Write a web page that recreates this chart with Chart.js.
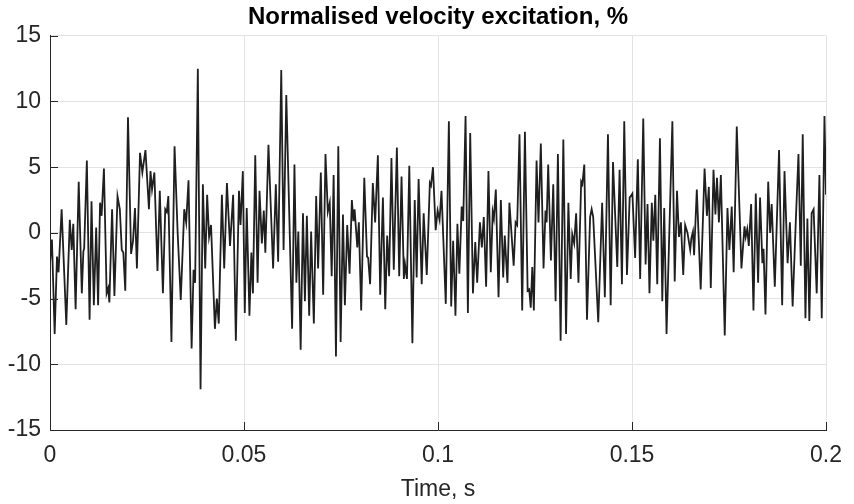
<!DOCTYPE html>
<html>
<head>
<meta charset="utf-8">
<script src="https://cdn.jsdelivr.net/npm/chart.js@4.4.1/dist/chart.umd.min.js"></script>
<style>
  html, body { margin: 0; padding: 0; background: #ffffff; }
  canvas { display: block; }
</style>
</head>
<body>
<canvas id="velocityChart" width="854" height="504"></canvas>
<script>
// sample times (ms) and normalised velocity (%)
const timeMs = [
  0.0, 0.5, 1.2, 1.8, 2.2, 3.0, 4.2, 5.1, 5.6, 6.0, 6.6, 7.4, 8.2, 8.6, 8.8, 9.5, 10.2, 10.7, 11.3, 11.9,
  12.4, 12.9, 13.3, 13.9, 14.6, 15.0, 15.3, 16.0, 16.6, 17.4, 18.0, 18.5, 18.9, 19.4, 20.1, 20.9, 21.4, 21.9, 22.4, 23.2,
  23.8, 24.6, 25.5, 25.9, 26.3, 26.9, 27.7, 28.3, 29.1, 29.7, 30.1, 30.5, 31.3, 32.1, 32.9, 33.7, 34.6, 35.1, 35.7, 36.5,
  37.0, 37.4, 38.1, 38.8, 39.4, 40.0, 40.5, 41.0, 41.5, 42.5, 43.0, 43.5, 44.3, 44.9, 45.6, 46.4, 47.2, 47.9, 48.7, 49.1,
  49.7, 50.2, 50.7, 51.4, 51.9, 52.3, 52.9, 53.5, 54.0, 54.6, 55.1, 55.5, 56.3, 57.5, 58.2, 58.8, 59.6, 60.2, 60.9, 62.4,
  63.0, 63.5, 64.0, 64.6, 65.2, 65.7, 66.2, 66.8, 67.3, 68.0, 68.6, 69.1, 69.8, 70.4, 71.0, 71.6, 72.1, 72.6, 73.1, 73.7,
  74.3, 74.9, 75.5, 76.0, 76.6, 77.2, 77.8, 78.2, 78.5, 79.2, 79.6, 80.2, 81.0, 81.7, 82.0, 82.5, 83.2, 83.8, 84.5, 85.1,
  85.8, 86.4, 86.9, 87.4, 88.0, 88.6, 89.4, 90.0, 90.6, 91.2, 91.5, 92.0, 92.6, 93.4, 94.0, 94.5, 95.0, 95.8, 96.3, 97.1,
  97.9, 98.2, 98.7, 99.4, 99.9, 100.4, 100.9, 102.0, 102.8, 103.4, 103.9, 104.5, 105.0, 105.5, 106.1, 106.5, 107.1, 107.7, 108.3, 109.0,
  109.6, 110.1, 110.8, 111.3, 111.8, 112.4, 113.0, 113.6, 114.1, 114.4, 114.9, 115.6, 116.2, 116.8, 117.2, 117.9, 118.4, 119.5, 120.0, 120.4,
  121.0, 121.7, 122.4, 123.1, 123.5, 123.9, 124.3, 124.7, 125.4, 125.9, 126.5, 127.2, 127.7, 128.0, 128.4, 129.1, 129.7, 130.3, 130.9, 131.6,
  132.3, 133.0, 133.6, 134.2, 134.6, 135.1, 135.6, 136.2, 136.9, 137.2, 137.7, 138.4, 139.2, 139.6, 140.0, 141.3, 142.3, 143.0, 143.8, 144.5,
  145.1, 146.2, 146.8, 147.4, 148.0, 148.7, 149.4, 149.7, 150.1, 150.8, 151.5, 152.1, 152.9, 153.5, 154.0, 154.5, 155.1, 155.5, 156.0, 156.5,
  157.2, 157.8, 158.3, 158.9, 160.4, 161.0, 161.6, 162.1, 162.6, 163.2, 163.7, 164.3, 165.0, 165.3, 165.7, 166.0, 166.7, 167.7, 168.7, 169.3,
  169.8, 170.3, 171.0, 171.5, 171.9, 172.4, 172.9, 173.9, 174.6, 175.1, 175.7, 176.2, 177.0, 178.2, 179.0, 179.3, 179.7, 180.1, 180.7, 181.3,
  181.9, 182.5, 183.0, 183.6, 183.9, 184.4, 185.1, 185.6, 186.0, 186.8, 187.9, 188.7, 189.3, 190.1, 190.7, 191.4, 192.2, 192.9, 193.5, 194.0,
  194.7, 195.2, 195.7, 196.3, 196.8, 197.6, 198.3, 198.9, 199.6, 200.0
];
const velocity = [
  -2.3, -0.5, -7.7, -1.8, -3.0, 1.8, -7.0, 1.0, -1.3, 0.7, -5.8, 3.9, -4.6, -1.4, -1.2, 5.5, -6.6, 2.4, -5.5, 0.4,
  -5.5, 2.3, 1.3, 4.9, -4.6, -4.2, -5.3, 1.8, -4.8, 2.8, 1.8, -1.3, -1.5, -4.4, 8.8, -1.6, -0.6, 1.9, -2.7, 6.1,
  4.6, 6.3, 1.8, 4.7, 3.3, 4.6, -2.9, 3.2, -4.6, 1.8, 1.6, 2.8, -8.3, 6.6, 0.0, -5.1, 1.8, 0.8, 4.0, -8.8,
  -2.8, -3.8, 12.5, -11.9, 3.7, -2.7, 2.9, -0.3, 0.6, -7.3, -5.0, -6.9, 2.9, -2.7, 3.8, -1.0, 2.9, -8.2, 3.2, 0.6,
  4.7, -6.1, 1.9, -6.3, -1.5, -4.6, 5.9, -3.8, 3.2, -0.8, 1.7, -1.5, 6.7, -2.7, 3.7, -2.2, 12.4, -1.3, 10.5, -7.3,
  5.2, -3.8, 0.1, -8.9, 1.5, -5.2, 1.3, -6.3, 0.1, -6.9, 2.8, -2.7, 4.6, -4.7, 6.0, 1.6, 2.3, -3.3, 4.4, -9.4,
  6.6, -8.3, 1.4, -5.5, 0.6, -3.1, 2.5, 0.9, 1.8, -1.1, 0.8, -5.9, 4.2, -1.8, -1.9, -3.9, 3.8, 0.8, 5.9, -4.7,
  2.7, -5.8, -0.2, -3.3, 5.7, -2.8, 6.5, -3.3, 4.3, -3.5, -2.4, -3.5, 5.1, -8.4, 2.5, -3.4, 4.1, -3.9, 1.5, -3.2,
  3.8, 3.6, 5.0, 0.2, 1.7, 1.0, 3.2, -5.4, 8.5, -5.6, -0.6, -6.3, 0.7, -3.1, 2.0, 0.9, 8.9, -6.1, 7.6, -4.6,
  -0.7, -3.8, 0.8, -1.1, 1.2, -4.1, 4.7, -3.0, 1.6, 1.1, 3.3, -4.9, 2.5, -3.4, -0.2, -3.8, 2.3, -2.5, 0.8, 0.6,
  7.5, -5.9, 7.7, -4.4, -4.3, -5.7, -2.6, -5.9, 5.5, 0.8, 6.8, -2.7, 1.7, 0.8, 5.2, -2.1, 3.7, -5.2, 6.0, -8.2,
  7.1, -7.7, 2.3, -3.5, -0.1, -0.8, 1.5, -3.8, 3.9, 3.7, 5.2, -6.6, 1.2, 1.8, 1.2, -6.8, 2.3, -4.9, 7.5, -5.5,
  5.4, -2.6, 4.8, -3.9, 8.5, -3.2, 2.7, 2.8, 3.0, -1.9, 5.6, -3.5, 8.7, -2.4, 2.2, -4.6, 2.3, -0.6, 2.9, -3.9,
  7.2, -5.2, 1.9, -7.7, 8.5, -3.7, 3.2, -0.3, 0.8, -3.2, 0.6, 0.0, -1.3, -0.4, 0.1, -1.7, 3.3, -4.3, 4.9, 1.3,
  3.5, -4.2, 4.8, 1.4, 4.2, 0.8, 4.4, -7.8, 1.9, -1.3, 2.0, -3.0, 8.1, -2.7, 0.5, -0.3, 0.3, -1.0, 2.2, -5.9,
  3.0, -3.8, 2.7, -2.3, -1.2, -6.2, 3.9, 0.0, 2.2, -4.1, 6.3, -5.5, 4.7, -2.3, 0.8, -5.6, 0.8, 6.0, -2.5, 7.5,
  -6.5, 1.1, -6.7, 1.5, 1.8, -4.6, 4.4, -6.5, 8.9, 2.9
];
const xTickValues = [0, 0.05, 0.1, 0.15, 0.2];
const xTickLabels = ["0", "0.05", "0.1", "0.15", "0.2"];
const yTickValues = [-15, -10, -5, 0, 5, 10, 15];

const fontFamily = "'Liberation Sans', Arial, Helvetica, sans-serif";
const axisColor = "#262626";
const gridColor = "#e3e3e3";

const points = timeMs.map((t, i) => ({ x: t / 1000, y: velocity[i] }));

// MATLAB style: small tick marks pointing into the plot
const inwardTicks = {
  id: "inwardTicks",
  afterDraw(chart) {
    const { ctx, chartArea, scales } = chart;
    ctx.save();
    ctx.strokeStyle = axisColor;
    ctx.lineWidth = 1;
    ctx.beginPath();
    scales.x.ticks.forEach((tick) => {
      const px = Math.round(scales.x.getPixelForValue(tick.value)) + 0.5;
      ctx.moveTo(px, chartArea.bottom);
      ctx.lineTo(px, chartArea.bottom - 8);
    });
    scales.y.ticks.forEach((tick) => {
      const py = Math.round(scales.y.getPixelForValue(tick.value)) + 0.5;
      ctx.moveTo(chartArea.left, py);
      ctx.lineTo(chartArea.left + 8, py);
    });
    ctx.stroke();
    ctx.restore();
  },
};

const ctx = document.getElementById("velocityChart").getContext("2d");

new Chart(ctx, {
  type: "line",
  data: {
    datasets: [
      {
        label: "Normalised velocity",
        data: points,
        borderColor: "#1f1f1f",
        borderWidth: 1.8,
        pointRadius: 0,
        tension: 0,
        fill: false,
      },
    ],
  },
  options: {
    responsive: false,
    animation: false,
    devicePixelRatio: 1,
    layout: {
      padding: { left: 0, right: 19.5, top: 0, bottom: 0 },
    },
    plugins: {
      legend: { display: false },
      tooltip: { enabled: false },
      title: {
        display: true,
        fullSize: false, // centre over the plot area, as MATLAB does
        text: "Normalised velocity excitation, %",
        color: "#000000",
        font: { family: fontFamily, size: 24, weight: "bold" },
        padding: { top: 3, bottom: 4 },
      },
    },
    scales: {
      x: {
        type: "linear",
        min: 0,
        max: 0.2,
        afterBuildTicks: (scale) => {
          scale.ticks = xTickValues.map((v) => ({ value: v }));
        },
        afterFit: (scale) => {
          scale.height = 74;
        },
        ticks: {
          color: axisColor,
          font: { family: fontFamily, size: 23 },
          padding: 12,
          maxRotation: 0,
          autoSkip: false,
          callback: (value) => xTickLabels[xTickValues.indexOf(value)],
        },
        grid: {
          color: gridColor,
          drawTicks: false,
        },
        border: { color: axisColor, width: 1 },
        title: {
          display: true,
          text: "Time, s",
          color: axisColor,
          font: { family: fontFamily, size: 23 },
          padding: { top: 0, bottom: 1 },
        },
      },
      y: {
        type: "linear",
        min: -15,
        max: 15,
        afterBuildTicks: (scale) => {
          scale.ticks = yTickValues.map((v) => ({ value: v }));
        },
        afterFit: (scale) => {
          scale.width = 50;
        },
        ticks: {
          color: axisColor,
          font: { family: fontFamily, size: 23 },
          padding: 9,
          autoSkip: false,
        },
        grid: {
          color: gridColor,
          drawTicks: false,
        },
        border: { color: axisColor, width: 1 },
      },
    },
  },
  plugins: [inwardTicks],
});
</script>
</body>
</html>
